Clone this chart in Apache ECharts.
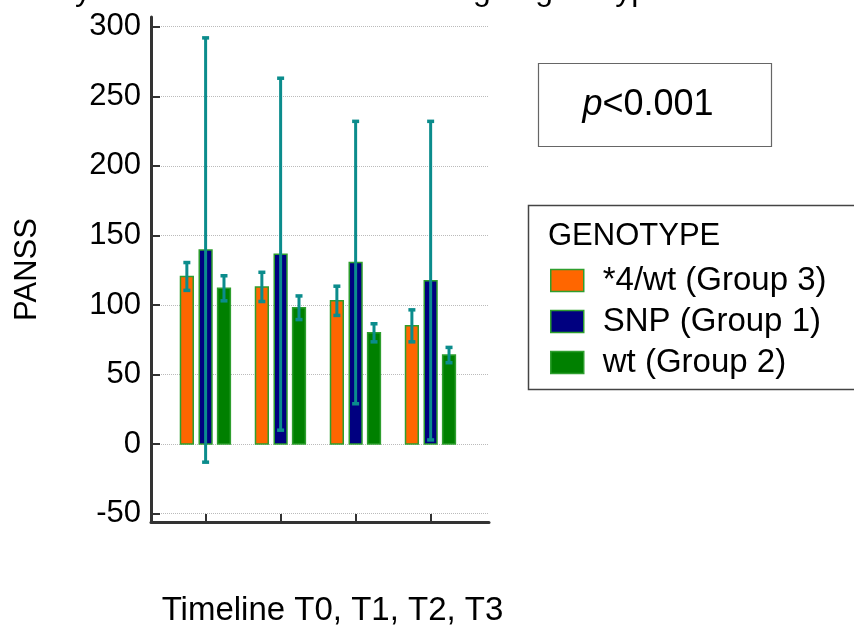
<!DOCTYPE html>
<html>
<head>
<meta charset="utf-8">
<script src="https://cdn.jsdelivr.net/npm/echarts@6/dist/echarts.min.js"></script>
<style>
html, body { margin: 0; padding: 0; background: #fff; }
#main { width: 854px; height: 625px; }
</style>
</head>
<body>
<div id="main"></div>
<script>
// timepoints, groups
var timepoints = ['T0', 'T1', 'T2', 'T3'];
var groupNames = ['*4/wt (Group 3)', 'SNP (Group 1)', 'wt (Group 2)'];
var groupColors = ['#ff6600', '#000080', '#008000'];

// PANSS mean and error
var meanG3 = [120.5, 113, 103, 85];
var errG3 = [10, 10.5, 10.5, 11.5];
var meanG1 = [139.5, 136.5, 130.5, 117.5];
var errG1 = [152.5, 126.5, 101.5, 114.5];
var meanG2 = [112, 98, 80, 64];
var errG2 = [9, 8.5, 6.5, 5.5];

var yTicks = [-50, 0, 50, 100, 150, 200, 250, 300];
var xTicks = [0, 1, 2, 3];

var FONT = '"Liberation Sans", Arial, sans-serif';
var borderGreen = '#2e9e2e';
var errColor = '#0b8c8c';
var offsets = [-0.255, -0.005, 0.24];
var barW = 0.17;

function makeData(means, errs) {
	var d = [];
	for (var i = 0; i < timepoints.length; i++) {
		d.push([i, means[i], errs[i]]);
	}
	return d;
}

function makeSeries(idx, means, errs) {
	return {
		name : groupNames[idx],
		type : 'custom',
		itemStyle : {
			color : groupColors[idx],
			borderColor : borderGreen,
			borderWidth : 1.5
		},
		data : makeData(means, errs),
		renderItem : function(params, api) {
			var x = api.value(0) + offsets[idx];
			var m = api.value(1);
			var e = api.value(2);
			var base = api.coord([x, 0]);
			var top = api.coord([x, m]);
			var hi = api.coord([x, m + e]);
			var lo = api.coord([x, m - e]);
			var w = api.size([barW, 0])[0];
			var cap = 3.5;
			return {
				type : 'group',
				children : [ {
					type : 'rect',
					shape : { x : base[0] - w / 2, y : top[1], width : w, height : base[1] - top[1] },
					style : { fill : groupColors[idx], stroke : borderGreen, lineWidth : 1.5 }
				}, {
					type : 'line',
					shape : { x1 : hi[0], y1 : hi[1], x2 : lo[0], y2 : lo[1] },
					style : { stroke : errColor, lineWidth : 3 }
				}, {
					type : 'line',
					shape : { x1 : hi[0] - cap, y1 : hi[1], x2 : hi[0] + cap, y2 : hi[1] },
					style : { stroke : errColor, lineWidth : 3.5 }
				}, {
					type : 'line',
					shape : { x1 : lo[0] - cap, y1 : lo[1], x2 : lo[0] + cap, y2 : lo[1] },
					style : { stroke : errColor, lineWidth : 3.5 }
				} ]
			};
		}
	};
}

var myChart = echarts.init(document.getElementById('main'));
myChart.setOption({
	animation : false,
	textStyle : { fontFamily : FONT },
	grid : { left : 151, right : 365, top : 17, bottom : 103, outerBoundsMode : 'none', containLabel : false },
	xAxis : {
		type : 'value',
		min : -0.733,
		max : 3.773,
		name : 'Timeline T0, T1, T2, T3',
		nameLocation : 'middle',
		nameGap : 72,
		nameTextStyle : { fontSize : 33, color : '#000', fontFamily : FONT, padding : [0, 0, 0, 25] },
		axisLine : { onZero : false, lineStyle : { color : '#333', width : 3 } },
		axisTick : { customValues : xTicks, inside : true, length : 8, lineStyle : { color : '#333', width : 2 } },
		axisLabel : { show : false },
		splitLine : { show : false }
	},
	yAxis : {
		type : 'value',
		min : -56,
		max : 307,
		name : 'PANSS',
		nameLocation : 'middle',
		nameGap : 108,
		nameTextStyle : { fontSize : 31, color : '#000', fontFamily : FONT },
		axisLine : { show : true, onZero : false, lineStyle : { color : '#333', width : 3 } },
		axisTick : { show : true, customValues : yTicks, inside : true, length : 9, lineStyle : { color : '#333', width : 2 } },
		axisLabel : { customValues : yTicks, fontSize : 31, color : '#000', margin : 10, fontFamily : FONT },
		splitLine : { show : true, lineStyle : { color : '#bbb', type : 'dotted', width : 1 } }
	},
	legend : {
		orient : 'vertical',
		left : 545,
		top : 259,
		itemWidth : 33,
		itemHeight : 22,
		itemGap : 8,
		icon : 'rect',
		selectedMode : false,
		textStyle : { fontSize : 33, color : '#000', fontFamily : FONT, padding : [0, 0, 0, 14] },
		data : groupNames.map(function(n, i) {
			return { name : n, itemStyle : { color : groupColors[i], borderColor : borderGreen, borderWidth : 1.5 } };
		})
	},
	graphic : [ {
		type : 'text',
		left : 52,
		top : -25,
		style : { text : 'Dynamics of PANSS according to genotype', font : '32px ' + FONT, fill : '#000' }
	}, {
		type : 'rect',
		shape : { x : 538.5, y : 63.5, width : 233, height : 83 },
		style : { fill : '#fff', stroke : '#666', lineWidth : 1.2 }
	}, {
		type : 'text',
		x : 648,
		y : 105,
		style : {
			text : '{i|p}<0.001',
			font : '36px ' + FONT,
			fill : '#000',
			align : 'center',
			verticalAlign : 'middle',
			rich : { i : { fontStyle : 'italic', fontSize : 36, fontFamily : FONT } }
		}
	}, {
		type : 'rect',
		shape : { x : 528.5, y : 205.5, width : 340, height : 184 },
		style : { fill : 'none', stroke : '#444', lineWidth : 1.5 }
	}, {
		type : 'text',
		x : 548,
		y : 236,
		style : { text : 'GENOTYPE', font : '31px ' + FONT, fill : '#000', verticalAlign : 'middle' }
	} ],
	series : [ makeSeries(0, meanG3, errG3), makeSeries(1, meanG1, errG1), makeSeries(2, meanG2, errG2) ]
});
</script>
</body>
</html>
